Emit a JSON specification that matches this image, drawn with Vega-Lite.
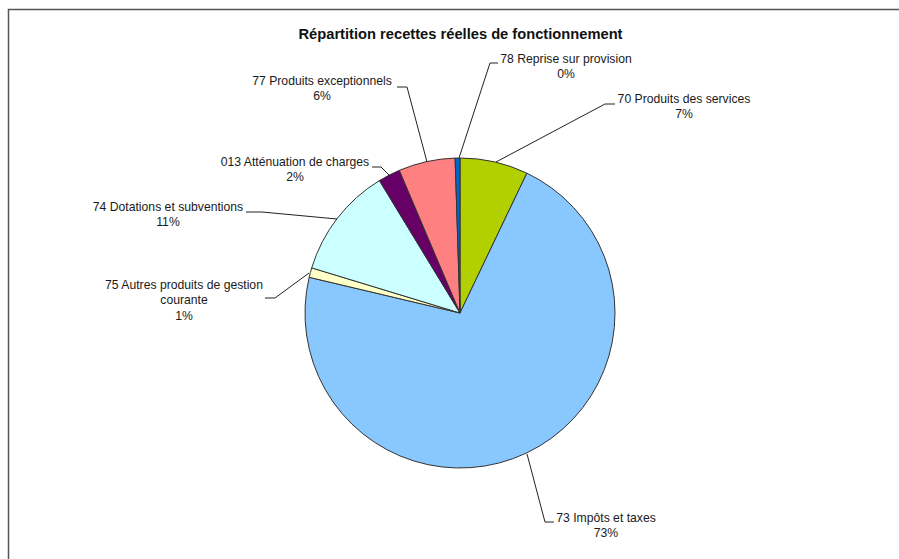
{
  "$schema": "https://vega.github.io/schema/vega-lite/v6.json",
  "width": 900,
  "height": 560,
  "autosize": {"type": "none"},
  "padding": {"left": 8.5, "top": 9.5, "right": 0, "bottom": 0},
  "background": "white",
  "config": {"view": {"stroke": "#555555", "strokeWidth": 1.5}},
  "title": {
    "text": "Répartition recettes réelles de fonctionnement",
    "font": "Liberation Sans",
    "fontSize": 14.7,
    "fontWeight": "bold",
    "color": "#111111",
    "anchor": "middle",
    "frame": "group",
    "offset": -32,
    "dx": 2
  },
  "datasets": {
    "slices": [
      {"poste": "70 Produits des services", "value": 7.1, "order": 1},
      {"poste": "73 Impôts et taxes", "value": 71.6, "order": 2},
      {"poste": "75 Autres produits de gestion courante", "value": 1.0, "order": 3},
      {"poste": "74 Dotations et subventions", "value": 11.6, "order": 4},
      {"poste": "013 Atténuation de charges", "value": 2.3, "order": 5},
      {"poste": "77 Produits exceptionnels", "value": 5.9, "order": 6},
      {"poste": "78 Reprise sur provision", "value": 0.5, "order": 7}
    ],
    "labels": [
      {"text": "78 Reprise sur provision\n0%", "lx": 106, "ly": 254.5},
      {"text": "70 Produits des services\n7%", "lx": 224, "ly": 214.5},
      {"text": "77 Produits exceptionnels\n6%", "lx": -138, "ly": 232.5},
      {"text": "013 Atténuation de charges\n2%", "lx": -165, "ly": 151.5},
      {"text": "74 Dotations et subventions\n11%", "lx": -292, "ly": 106.5},
      {"text": "75 Autres produits de gestion\ncourante\n1%", "lx": -276, "ly": 28.5},
      {"text": "73 Impôts et taxes\n73%", "lx": 146, "ly": -204.5}
    ],
    "leaders": [
      {"id": "78", "seq": 1, "lx": -1, "ly": 155},
      {"id": "78", "seq": 2, "lx": 30, "ly": 250},
      {"id": "78", "seq": 3, "lx": 38, "ly": 250},
      {"id": "70", "seq": 1, "lx": 36, "ly": 151},
      {"id": "70", "seq": 2, "lx": 145, "ly": 209},
      {"id": "70", "seq": 3, "lx": 155, "ly": 209},
      {"id": "77", "seq": 1, "lx": -33, "ly": 151},
      {"id": "77", "seq": 2, "lx": -53, "ly": 226},
      {"id": "77", "seq": 3, "lx": -63, "ly": 226},
      {"id": "013", "seq": 1, "lx": -70, "ly": 137},
      {"id": "013", "seq": 2, "lx": -79, "ly": 146},
      {"id": "013", "seq": 3, "lx": -88, "ly": 146},
      {"id": "74", "seq": 1, "lx": -123, "ly": 94},
      {"id": "74", "seq": 2, "lx": -198, "ly": 101},
      {"id": "74", "seq": 3, "lx": -214, "ly": 101},
      {"id": "75", "seq": 1, "lx": -151, "ly": 40},
      {"id": "75", "seq": 2, "lx": -185, "ly": 15},
      {"id": "75", "seq": 3, "lx": -195, "ly": 15},
      {"id": "73", "seq": 1, "lx": 67, "ly": -141},
      {"id": "73", "seq": 2, "lx": 85, "ly": -209},
      {"id": "73", "seq": 3, "lx": 94, "ly": -209}
    ]
  },
  "layer": [
    {
      "data": {"name": "slices"},
      "mark": {"type": "arc", "radius": 155, "stroke": "#333333", "strokeWidth": 1},
      "encoding": {
        "x": {"datum": 0, "type": "quantitative", "scale": {"domain": [-451.5, 448.5], "zero": false, "nice": false}, "axis": null},
        "y": {"datum": 0, "type": "quantitative", "scale": {"domain": [-256.5, 303.5], "zero": false, "nice": false}, "axis": null},
        "theta": {"field": "value", "type": "quantitative", "stack": true},
        "order": {"field": "order", "type": "quantitative"},
        "color": {
          "field": "poste",
          "type": "nominal",
          "legend": null,
          "scale": {
            "domain": ["70 Produits des services", "73 Impôts et taxes", "75 Autres produits de gestion courante", "74 Dotations et subventions", "013 Atténuation de charges", "77 Produits exceptionnels", "78 Reprise sur provision"],
            "range": ["#B2CF00", "#88C8FF", "#FFFFC8", "#CCFFFF", "#660066", "#FF8080", "#0066CC"]
          }
        }
      }
    },
    {
      "data": {"name": "leaders"},
      "mark": {"type": "line", "color": "#222222", "strokeWidth": 1},
      "encoding": {
        "x": {"field": "lx", "type": "quantitative"},
        "y": {"field": "ly", "type": "quantitative"},
        "detail": {"field": "id", "type": "nominal"},
        "order": {"field": "seq", "type": "quantitative"}
      }
    },
    {
      "data": {"name": "labels"},
      "mark": {"type": "text", "font": "Liberation Sans", "fontSize": 12.2, "color": "#1a1a1a", "align": "center", "baseline": "middle", "lineBreak": "\n", "lineHeight": 15.5},
      "encoding": {
        "x": {"field": "lx", "type": "quantitative"},
        "y": {"field": "ly", "type": "quantitative"},
        "text": {"field": "text", "type": "nominal"}
      }
    }
  ]
}
